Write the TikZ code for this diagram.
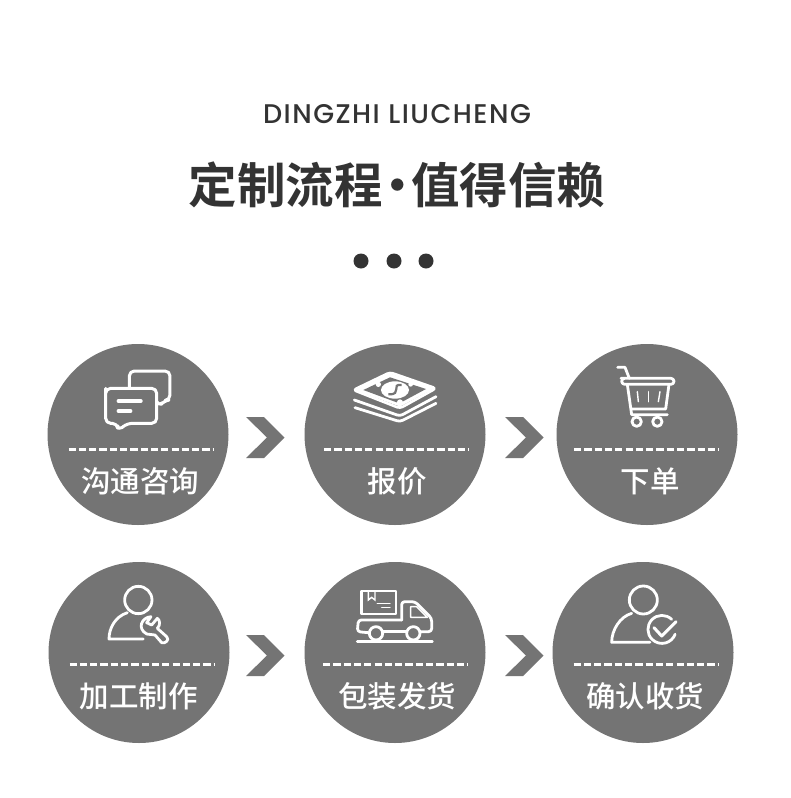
\documentclass[tikz,border=0pt]{standalone}
\usepackage{fontspec}
\setmainfont{Poppins Medium}
\newfontfamily\cjkreg{Noto Sans CJK SC Medium}
\newfontfamily\cjkbold{Noto Sans CJK SC Bold}
\definecolor{stepgray}{HTML}{747474}
\definecolor{titledark}{HTML}{333333}
\tikzset{
  stepcircle/.style={circle,fill=stepgray,minimum size=181pt,inner sep=0pt},
  steplabel/.style={text=white,font=\cjkreg\fontsize{29.5}{30}\selectfont,inner sep=0pt},
  stepdash/.style={white,line width=3pt,dash pattern=on 7.2pt off 3.1pt},
  iconline/.style={white,line width=2.8pt,line cap=round,line join=round},
  thinline/.style={white,line width=1.4pt,line cap=round},
  chevron/.style={fill=stepgray},
  zoomed/.style={shift={#1},scale=1/3}
}
\begin{document}
\begin{tikzpicture}[x=1pt,y=-1pt]
    \useasboundingbox[fill=white] (0,0) rectangle (790,798);
    % heading
    \node (latin) at (397,114) {\fontsize{27}{27}\selectfont\addfontfeature{LetterSpace=5.5}\color{titledark}DINGZHI LIUCHENG};
    \node (title) at (397,185) {\cjkbold\fontsize{48.5}{49}\selectfont\color{titledark}定制流程\kern-9pt·\kern-11pt值得信赖};
    \foreach \x/\nm in {361/a,394/b,426/c}
    \node[circle,fill=titledark,minimum size=15pt,inner sep=0pt] (dot\nm) at (\x,261) {};
    % circles, dashes and labels
    \foreach \nm/\cx/\cy/\dx/\dy/\lx/\ly/\txt in {
      talk/138/434.5/141/449/140/481/沟通咨询,
      quote/395/434.5/396.5/449/397/481/报价,
      order/647/434.5/646.5/449/650/481/下单,
      make/139/652.5/142/664/138.5/696/加工制作,
      ship/395/652.5/395.5/664/397/696/包装发货,
      sign/643/652.5/646/664/645/696/确认收货}{
      \node[stepcircle] (\nm) at (\cx,\cy) {};
      \node[steplabel] (\nm label) at (\lx,\ly) {\txt};
      \coordinate (\nm a) at (\dx-72.5,\dy);
      \coordinate (\nm b) at (\dx+72.5,\dy);
      \draw[stepdash] (\nm a) -- (\nm b);
    }
    % chevrons
    \foreach \x/\y in {246/437.5,505/437.5,246/655.5,505/655.5}
    \fill[chevron,xshift=\x pt,yshift=-\y pt] (0,-20.5) -- (18,-20.5) -- (38.5,0) -- (18,20.5) -- (0,20.5) -- (21,0) -- cycle;
    % chat
    \begin{scope}[zoomed={(40,340)}]
      \draw[iconline,line width=3pt,rounded corners=5pt] (197,160) -- (197,250) -- (232,250) -- (234,272) -- (262,250) -- (350,250) -- (350,145) -- (197,145) -- cycle;
      \draw[iconline,line width=3pt,rounded corners=5pt] (268,145) -- (268,93) -- (390,93) -- (390,180) -- (372,182) -- (358,200) -- (352,188);
      \draw[white,line width=3.4pt,line cap=round] (235,183) -- (303,183);
      \draw[white,line width=3.4pt,line cap=round] (235,213) -- (272,213);
    \end{scope}
    % money
    \begin{scope}[zoomed={(300,340)}]
      \draw[white,line width=2.6pt,line join=round,rounded corners=3pt] (160,150) -- (270,97) -- (408,145) -- (300,205) -- cycle;
      \fill[white] (165,150) -- (270,100) -- (403,145) -- (300,200) -- cycle;
      \fill[stepgray] (190,150) -- (270,112) -- (378,147) -- (298,190) -- cycle;
      \fill[white] (285,150) ellipse [x radius=42,y radius=26];
      \draw[stepgray,line width=2.2pt] (305,135) .. controls (270,130) and (310,165) .. (265,163);
      \fill[white] (235,133) circle [radius=8];
      \fill[white] (332,133) circle [radius=7];
      \fill[white] (300,187) circle [radius=9];
      \draw[iconline,rounded corners=3pt] (163,180) -- (300,228) -- (408,170);
      \draw[iconline,rounded corners=3pt] (165,203) -- (300,245) -- (408,190);
    \end{scope}
    % cart
    \begin{scope}[zoomed={(550,340)}]
      \draw[iconline] (203,82) -- (225,82) -- (238,115);
      \draw[iconline,rounded corners=3pt] (222,115) -- (372,115) -- (372,133) -- (215,133) -- (215,115) -- cycle;
      \draw[iconline] (232,133) -- (245,224) -- (352,224);
      \draw[iconline] (357,133) -- (347,207) -- (245,207);
      \draw[iconline] (260,245) circle [radius=14];
      \draw[iconline] (322,245) circle [radius=14];
      \draw[thinline] (262,155) -- (265,185);
      \draw[thinline] (296,155) -- (296,185);
      \draw[thinline] (330,155) -- (325,185);
    \end{scope}
    % person with wrench
    \begin{scope}[zoomed={(40,560)}]
      \draw[iconline] (295,120) circle [radius=41];
      \draw[iconline] (262,158) .. controls (225,170) and (207,205) .. (207,237) -- (310,237);
      \draw[iconline] (333,170) .. controls (305,172) and (290,205) .. (320,222) -- (345,225) -- (365,248) .. controls (375,252) and (390,240) .. (380,230) -- (352,205) .. controls (362,195) and (360,180) .. (352,175) -- (335,195) -- (320,188) -- cycle;
    \end{scope}
    % truck
    \begin{scope}[zoomed={(300,560)}]
      \draw[iconline] (185,93) rectangle (288,162);
      \draw[thinline] (205,97) -- (205,120) -- (215,112) -- (225,120) -- (225,97);
      \draw[thinline] (232,130) -- (270,130);
      \draw[thinline] (245,143) -- (270,143);
      \draw[iconline,rounded corners=3pt] (305,180) -- (305,125) -- (345,125) -- (395,175) -- (395,215) -- (362,215);
      \draw[iconline,rounded corners=3pt] (305,180) -- (175,180) -- (172,215) -- (205,218);
      \draw[iconline] (250,215) -- (317,215);
      \draw[iconline] (228,220) circle [radius=20];
      \draw[iconline] (340,220) circle [radius=20];
      \draw[iconline,line width=1.6pt] (332,140) -- (350,140) -- (382,172) -- (332,172) -- cycle;
      \draw[iconline] (172,245) -- (397,245);
    \end{scope}
    % person with check
    \begin{scope}[zoomed={(550,560)}]
      \draw[iconline] (280,120) circle [radius=42];
      \draw[iconline] (245,160) .. controls (210,170) and (185,210) .. (185,247) -- (300,247);
      \draw[iconline] (365,178) arc [start angle=-46,end angle=-340,radius=42];
      \draw[iconline,line width=3pt] (312,203) -- (335,228) -- (378,185);
    \end{scope}
  \end{tikzpicture}
\end{document}
